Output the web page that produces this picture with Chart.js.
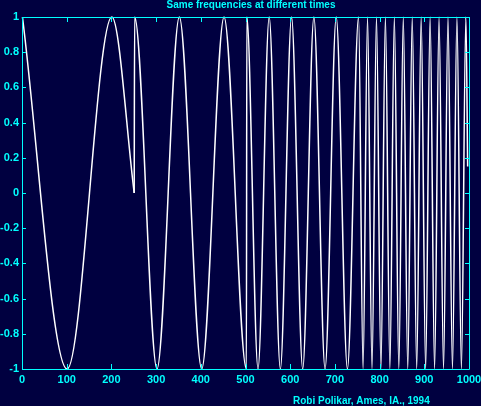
<!DOCTYPE html>
<html lang="en">
<head>
    <meta charset="UTF-8">
    <title>Same frequencies at different times</title>
    <style>
        * { margin: 0; padding: 0; box-sizing: border-box; }
        body { background: #000040; width: 481px; height: 406px; overflow: hidden; }
        canvas { display: block; }
    </style>
</head>
<body>
    <canvas id="sigChart" width="481" height="406"></canvas>
    <script src="https://cdn.jsdelivr.net/npm/chart.js"></script>
    <script>
        // Values (extrema of each section)
        const seg1X = [1, 101, 201, 251];
        const seg1Y = [1, -1, 1, 0];

        const restX = [
            251, 252, 302, 352, 402, 452, 502,
            503, 528, 553, 578, 603, 628, 653, 678, 703, 728, 753,
            763, 773, 783, 793, 803, 813, 823, 833, 843, 853, 863, 873,
            883, 893, 903, 913, 923, 933, 943, 953, 963, 973, 983, 993, 997
        ];
        const restY = [
            0, 1, -1, 1, -1, 1, -1,
            1, -1, 1, -1, 1, -1, 1, -1, 1, -1, 1,
            -1, 1, -1, 1, -1, 1, -1, 1, -1, 1, -1, 1,
            -1, 1, -1, 1, -1, 1, -1, 1, -1, 1, -1, 1, 0.15
        ];

        const xTickValues = [0, 100, 200, 300, 400, 500, 600, 700, 800, 900, 1000];
        const yTickLabels = ['-1', '-0.8', '-0.6', '-0.4', '-0.2', '0', '0.2', '0.4', '0.6', '0.8', '1'];

        const titleText = 'Same frequencies at different times';
        const footerText = 'Robi Polikar, Ames, IA., 1994';

        const CYAN = '#00ffff';
        const toPoints = (xs, ys) => xs.map((x, i) => ({ x: x, y: ys[i] }));

        // frame, inward ticks, title and credit line
        const framePlugin = {
            id: 'frame',
            afterDraw(chart) {
                const ctx = chart.ctx;
                const a = chart.chartArea;
                const xs = chart.scales.x, ys = chart.scales.y;
                ctx.save();
                ctx.strokeStyle = CYAN;
                ctx.lineWidth = 1;
                ctx.beginPath();
                ctx.rect(Math.round(a.left) + 0.5, Math.round(a.top) + 0.5,
                    Math.round(a.right - a.left), Math.round(a.bottom - a.top));
                xTickValues.forEach(v => {
                    const px = Math.round(xs.getPixelForValue(v)) + 0.5;
                    ctx.moveTo(px, a.bottom); ctx.lineTo(px, a.bottom - 5);
                    ctx.moveTo(px, a.top); ctx.lineTo(px, a.top + 5);
                });
                yTickLabels.forEach(l => {
                    const py = Math.round(ys.getPixelForValue(parseFloat(l))) + 0.5;
                    ctx.moveTo(a.left, py); ctx.lineTo(a.left + 4, py);
                    ctx.moveTo(a.right, py); ctx.lineTo(a.right - 4, py);
                });
                ctx.stroke();

                ctx.fillStyle = CYAN;
                ctx.font = 'bold 10px "Liberation Sans", Arial, sans-serif';
                ctx.textBaseline = 'middle';
                ctx.textAlign = 'center';
                ctx.fillText(titleText, 251, 5);
                ctx.textAlign = 'left';
                ctx.fillText(footerText, 293, 401);
                ctx.restore();
            }
        };

        const lineStyle = {
            borderColor: '#ffffff',
            borderWidth: 1.5,
            pointRadius: 0,
            fill: false,
            cubicInterpolationMode: 'monotone',
            clip: false
        };

        new Chart(document.getElementById('sigChart'), {
            type: 'line',
            data: {
                datasets: [
                    Object.assign({ data: toPoints(seg1X, seg1Y) }, lineStyle),
                    Object.assign({ data: toPoints(restX, restY) }, lineStyle)
                ]
            },
            options: {
                responsive: false,
                animation: false,
                devicePixelRatio: 1,
                layout: { padding: { top: 17, right: 12, left: 0, bottom: 0 } },
                plugins: { legend: { display: false }, title: { display: false }, tooltip: { enabled: false } },
                scales: {
                    x: {
                        type: 'linear', min: 0, max: 1000,
                        afterFit: s => { s.height = 37; s.paddingLeft = 0; s.paddingRight = 0; },
                        afterBuildTicks: s => { s.ticks = xTickValues.map(v => ({ value: v })); },
                        ticks: {
                            color: CYAN, padding: 4, maxRotation: 0, autoSkip: false,
                            font: { family: '"Liberation Sans", Arial, sans-serif', size: 11, weight: 'bold' },
                            callback: v => String(v)
                        },
                        grid: { display: false, drawTicks: false },
                        border: { display: false }
                    },
                    y: {
                        min: -1, max: 1,
                        afterFit: s => { s.width = 22; s.paddingTop = 0; s.paddingBottom = 0; },
                        afterBuildTicks: s => { s.ticks = yTickLabels.map(l => ({ value: parseFloat(l) })); },
                        ticks: {
                            color: CYAN, padding: 3, autoSkip: false,
                            font: { family: '"Liberation Sans", Arial, sans-serif', size: 11, weight: 'bold' },
                            callback: (v, i) => yTickLabels[i]
                        },
                        grid: { display: false, drawTicks: false },
                        border: { display: false }
                    }
                }
            },
            plugins: [framePlugin]
        });
    </script>
</body>
</html>
